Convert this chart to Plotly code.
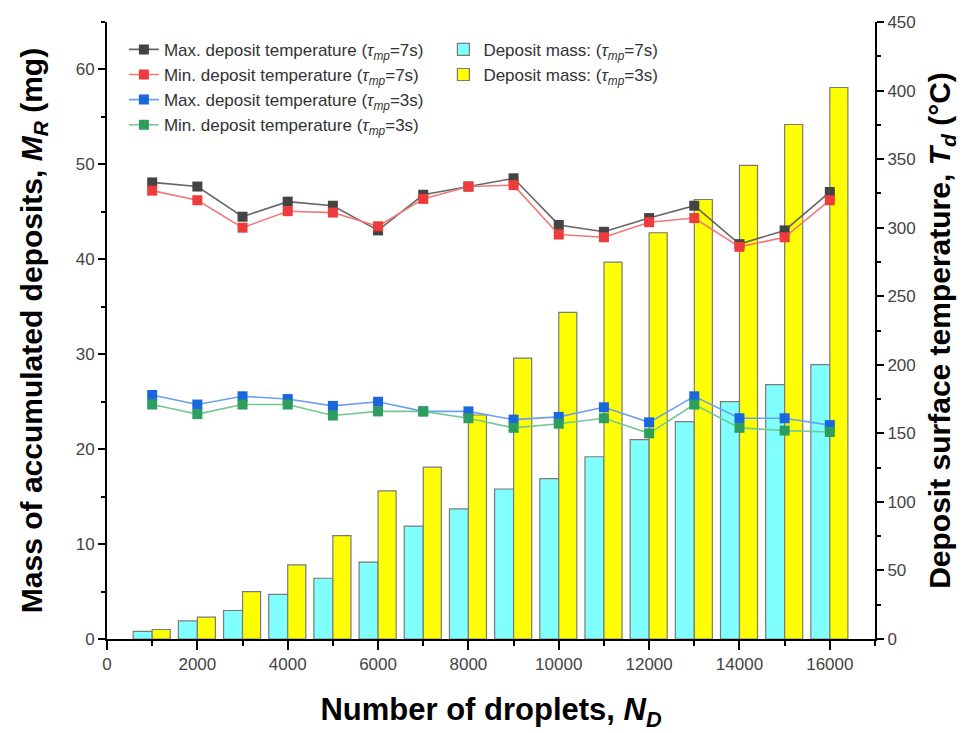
import plotly.graph_objects as go

n_droplets = [1000, 2000, 3000, 4000, 5000, 6000, 7000, 8000, 9000, 10000,
              11000, 12000, 13000, 14000, 15000, 16000]

mass_7s = [0.8, 1.9, 3.0, 4.7, 6.4, 8.1, 11.9, 13.7, 15.8, 16.9,
           19.2, 21.0, 22.9, 25.0, 26.8, 28.9]
mass_3s = [1.0, 2.3, 5.0, 7.8, 10.9, 15.6, 18.1, 23.6, 29.6, 34.4,
           39.7, 42.8, 46.3, 49.9, 54.2, 58.1]

tmax_7s = [333, 330, 308, 319, 316, 298, 324, 330, 336, 302,
           297, 307, 316, 288, 298, 326]
tmin_7s = [327, 320, 300, 312, 311, 301, 321, 330, 331, 295,
           293, 304, 307, 286, 293, 320]
tmax_3s = [178, 171, 177, 175, 170, 173, 166, 166, 160, 162,
           169, 158, 177, 161, 161, 156]
tmin_3s = [171, 164, 171, 171, 163, 166, 166, 161, 154, 157,
           161, 150, 171, 154, 152, 151]

x_ticks = [0, 2000, 4000, 6000, 8000, 10000, 12000, 14000, 16000]

tau = "(<i>τ</i><sub><i>mp</i></sub>=%s)"

fig = go.Figure()

fig.add_trace(go.Bar(
    x=n_droplets, y=mass_7s, name="Deposit mass: " + tau % "7s",
    width=420, offset=-420,
    marker=dict(color="#80ffff", line=dict(color="#7a7a7a", width=1.2)),
    legend="legend2", yaxis="y"))
fig.add_trace(go.Bar(
    x=n_droplets, y=mass_3s, name="Deposit mass: " + tau % "3s",
    width=400, offset=0,
    marker=dict(color="#ffff00", line=dict(color="#7a7a7a", width=1.2)),
    legend="legend2", yaxis="y"))

line_specs = [
    (tmax_7s, "Max. deposit temperature " + tau % "7s", "#444444", "#666666"),
    (tmin_7s, "Min. deposit temperature " + tau % "7s", "#ee3b3b", "#f07878"),
    (tmax_3s, "Max. deposit temperature " + tau % "3s", "#1a66dd", "#6d9ff0"),
    (tmin_3s, "Min. deposit temperature " + tau % "3s", "#2e9e5e", "#74c894"),
]
for vals, name, mc, lc in line_specs:
    fig.add_trace(go.Scatter(
        x=n_droplets, y=vals, name=name, mode="lines+markers",
        line=dict(color=lc, width=1.6),
        marker=dict(symbol="square", size=10, color=mc),
        yaxis="y2", legend="legend"))

FAM = "Liberation Sans, Arial, sans-serif"
axis_font = dict(family=FAM, size=17, color="#444444")
title_font = dict(family=FAM, size=30, color="black")
legend_font = dict(family=FAM, size=17, color="#333333")

fig.update_layout(
    width=975, height=733,
    margin=dict(l=99, r=108, t=14, b=102),
    paper_bgcolor="white", plot_bgcolor="white",
    barmode="overlay",
    font=dict(family=FAM),
    xaxis=dict(
        range=[0, 17000], tickvals=x_ticks, tickformat="d",
        ticks="outside", ticklen=9, tickwidth=2, tickcolor="black",
        minor=dict(dtick=1000, ticks="outside", ticklen=5, tickwidth=2, tickcolor="black"),
        showline=True, linewidth=2, linecolor="black", showgrid=False, zeroline=False,
        tickfont=axis_font, automargin=False,
        title=dict(text="<b>Number of droplets, <i>N</i><sub><i>D</i></sub></b>",
                   font=dict(family=FAM, size=31, color="black"), standoff=25),
    ),
    xaxis2=dict(
        range=[0, 17000], overlaying="x", side="top", anchor="y",
        tickvals=x_ticks, showticklabels=False,
        ticks="inside", ticklen=10, tickwidth=2, tickcolor="black",
        minor=dict(dtick=1000, ticks="inside", ticklen=5, tickwidth=2, tickcolor="black"),
        showline=True, linewidth=2, linecolor="black", showgrid=False, zeroline=False,
        automargin=False,
    ),
    yaxis=dict(
        range=[0, 65], dtick=10, ticks="outside", ticklen=7, tickwidth=2, tickcolor="black",
        minor=dict(dtick=5, ticks="outside", ticklen=4, tickwidth=2, tickcolor="black"),
        showline=True, linewidth=2, linecolor="black", showgrid=False, zeroline=False,
        tickfont=axis_font, automargin=False,
        title=dict(text="<b>Mass of accumulated deposits, <i>M</i><sub><i>R</i></sub> (mg)</b>",
                   font=title_font, standoff=24),
    ),
    yaxis2=dict(
        range=[0, 450], dtick=50, overlaying="y", side="right",
        ticks="outside", ticklen=7, tickwidth=2, tickcolor="black",
        minor=dict(dtick=25, ticks="outside", ticklen=4, tickwidth=2, tickcolor="black"),
        showline=True, linewidth=2, linecolor="black", showgrid=False, zeroline=False,
        tickfont=axis_font, automargin=False,
        title=dict(text="<b>Deposit surface temperature, <i>T</i><sub><i>d</i></sub> (°C)</b>",
                   font=title_font, standoff=14),
    ),
    legend=dict(
        x=0.022, y=0.984, xanchor="left", yanchor="top",
        bgcolor="rgba(0,0,0,0)", borderwidth=0, tracegroupgap=0,
        font=legend_font, itemwidth=30,
    ),
    legend2=dict(
        x=0.438, y=0.984, xanchor="left", yanchor="top",
        bgcolor="rgba(0,0,0,0)", borderwidth=0, tracegroupgap=0,
        font=legend_font, itemwidth=30,
    ),
)

fig.write_html("out.html")
